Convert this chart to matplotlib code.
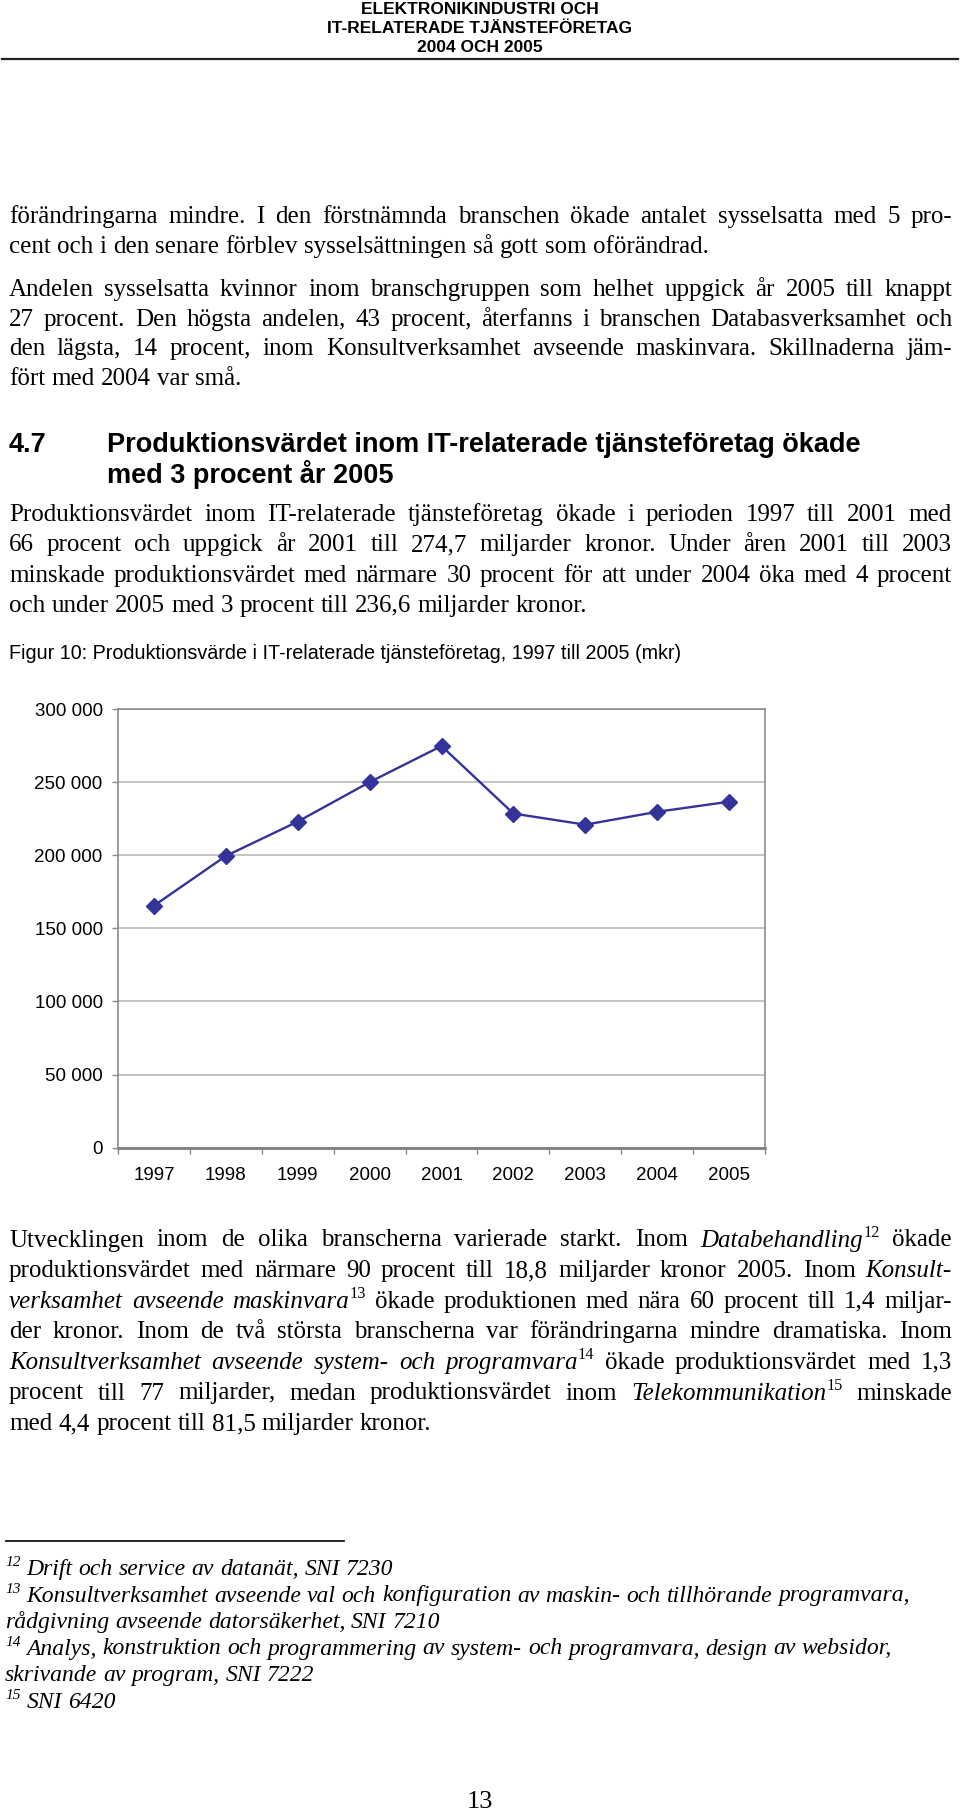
import matplotlib
matplotlib.use("Agg")
import matplotlib.pyplot as plt
from matplotlib.ticker import FixedLocator, NullFormatter

W, H = 960, 1811

# chart data (mkr)
years = ["1997", "1998", "1999", "2000", "2001", "2002", "2003", "2004", "2005"]
values = [165500, 199500, 223000, 250000, 274700, 228500, 220900, 229700, 236600]
yticks = [0, 50000, 100000, 150000, 200000, 250000, 300000]

header = ["ELEKTRONIKINDUSTRI OCH", "IT-RELATERADE TJÄNSTEFÖRETAG", "2004 OCH 2005"]

para1 = ["förändringarna mindre. I den förstnämnda branschen ökade antalet sysselsatta med 5 pro-",
         "cent och i den senare förblev sysselsättningen så gott som oförändrad."]
para2 = ["Andelen sysselsatta kvinnor inom branschgruppen som helhet uppgick år 2005 till knappt",
         "27 procent. Den högsta andelen, 43 procent, återfanns i branschen Databasverksamhet och",
         "den lägsta, 14 procent, inom Konsultverksamhet avseende maskinvara. Skillnaderna jäm-",
         "fört med 2004 var små."]
heading = ["Produktionsvärdet inom IT-relaterade tjänsteföretag ökade", "med 3 procent år 2005"]
para3 = ["Produktionsvärdet inom IT-relaterade tjänsteföretag ökade i perioden 1997 till 2001 med",
         "66 procent och uppgick år 2001 till 274,7 miljarder kronor. Under åren 2001 till 2003",
         "minskade produktionsvärdet med närmare 30 procent för att under 2004 öka med 4 procent",
         "och under 2005 med 3 procent till 236,6 miljarder kronor."]
caption = "Figur 10: Produktionsvärde i IT-relaterade tjänsteföretag, 1997 till 2005 (mkr)"
para4 = ["Utvecklingen inom de olika branscherna varierade starkt. Inom *Databehandling*^12 ökade",
         "produktionsvärdet med närmare 90 procent till 18,8 miljarder kronor 2005. Inom *Konsult-*",
         "*verksamhet avseende maskinvara*^13 ökade produktionen med nära 60 procent till 1,4 miljar-",
         "der kronor. Inom de två största branscherna var förändringarna mindre dramatiska. Inom",
         "*Konsultverksamhet avseende system- och programvara*^14 ökade produktionsvärdet med 1,3",
         "procent till 77 miljarder, medan produktionsvärdet inom *Telekommunikation*^15 minskade",
         "med 4,4 procent till 81,5 miljarder kronor."]
notes = ["^12 Drift och service av datanät, SNI 7230",
         "^13 Konsultverksamhet avseende val och konfiguration av maskin- och tillhörande programvara,",
         "rådgivning avseende datorsäkerhet, SNI 7210",
         "^14 Analys, konstruktion och programmering av system- och programvara, design av websidor,",
         "skrivande av program, SNI 7222",
         "^15 SNI 6420"]

SERIF = "Liberation Serif"
SANS = "Liberation Sans"

fig = plt.figure(figsize=(W / 100, H / 100), dpi=100)
fig.patch.set_facecolor("white")
rend = fig.canvas.get_renderer()


def put(x, y, s, **kw):
    return fig.text(x / W, 1 - y / H, s, **kw)


def parse(line):
    words = []
    italic = False
    for w in line.split(" "):
        segs, buf, sup = [], "", False
        for ch in w:
            if ch in "*^":
                if buf:
                    segs.append((buf, italic, sup))
                    buf = ""
                if ch == "*":
                    italic = not italic
                else:
                    sup = True
            else:
                buf += ch
        if buf:
            segs.append((buf, italic, sup))
        words.append(segs)
    return words


def textline(y, line, size, x0=9, x1=None, all_italic=False):
    # y = baseline in pixels from top; x1 given -> justified
    px = size * 100 / 72
    words = parse(line)
    placed, widths = [], []
    for segs in words:
        items, off = [], 0
        for s, it, sup in segs:
            t = fig.text(0, 0, s, family=SERIF, fontsize=size * 0.65 if sup else size,
                         style="italic" if (it or all_italic) else "normal", va="baseline")
            items.append((t, off, sup))
            off += t.get_window_extent(rend).width
        placed.append(items)
        widths.append(off)
    if x1 is None or len(words) < 2:
        gap = 0.25 * px
    else:
        gap = (x1 - x0 - sum(widths)) / (len(words) - 1)
    x = x0
    for items, wd in zip(placed, widths):
        for t, off, sup in items:
            t.set_position(((x + off) / W, 1 - (y - (0.38 * px if sup else 0)) / H))
        x += wd + gap


def paragraph(y0, lines, size=18, pitch=30, right=952):
    for i, ln in enumerate(lines):
        last = i == len(lines) - 1
        textline(y0 + i * pitch, ln, size, x1=None if last else right)


# page header
for i, s in enumerate(header):
    put(480, 14 + i * 19.2, s, family=SANS, fontsize=12.5, weight="bold", ha="center", va="baseline")
fig.add_artist(plt.Line2D([2 / W, 958 / W], [1 - 59 / H, 1 - 59 / H], color="#222222", lw=1.6))

paragraph(223, para1)
paragraph(296, para2, pitch=29.7)

put(9, 452, "4.7", family=SANS, fontsize=19.5, weight="bold", va="baseline")
for i, s in enumerate(heading):
    put(107, 452 + i * 31, s, family=SANS, fontsize=19.5, weight="bold", va="baseline")

paragraph(521, para3, pitch=30.3)
put(9, 659, caption, family=SANS, fontsize=14.2, va="baseline")

# chart
ax = fig.add_axes([118 / W, 1 - 1147.7 / H, (765 - 118) / W, (1147.7 - 709) / H])
x = list(range(len(years)))
ax.plot(x, values, color="#333399", lw=1.7, marker="D", ms=8, mfc="#333399", mec="#333399", zorder=3)
ax.set_xlim(-0.5, len(years) - 0.5)
ax.set_ylim(yticks[0], yticks[-1])
ax.set_yticks(yticks)
ax.set_yticklabels([f"{v:,}".replace(",", " ") for v in yticks], family=SANS, fontsize=13.5)
ax.yaxis.grid(True, color="#b4b4b4", lw=1.1)
ax.set_axisbelow(True)
ax.xaxis.set_major_locator(FixedLocator([i - 0.5 for i in range(len(years) + 1)]))
ax.xaxis.set_major_formatter(NullFormatter())
ax.xaxis.set_minor_locator(FixedLocator(x))
ax.set_xticklabels(years, minor=True, family=SANS, fontsize=13.5)
ax.tick_params(axis="x", which="major", length=4, width=1, color="#8a8a8a", direction="out")
ax.tick_params(axis="x", which="minor", length=0, pad=14)
ax.tick_params(axis="y", length=4, width=1, color="#8a8a8a", pad=7)
for side in ["left", "right", "top"]:
    ax.spines[side].set_color("#8c8c8c")
    ax.spines[side].set_linewidth(1.2)
ax.spines["bottom"].set_color("#808080")
ax.spines["bottom"].set_linewidth(2)

paragraph(1246.5, para4, pitch=30.6)

# footnotes
fig.add_artist(plt.Line2D([6 / W, 344 / W], [1 - 1540.5 / H, 1 - 1540.5 / H], color="#111111", lw=1.3))
for i, s in enumerate(notes):
    textline(1575 + i * 26.5, s, 17, x0=5, all_italic=True)

put(480, 1808, "13", family=SERIF, fontsize=19, ha="center", va="baseline")

fig.savefig("out.png", dpi=100, facecolor="white")
